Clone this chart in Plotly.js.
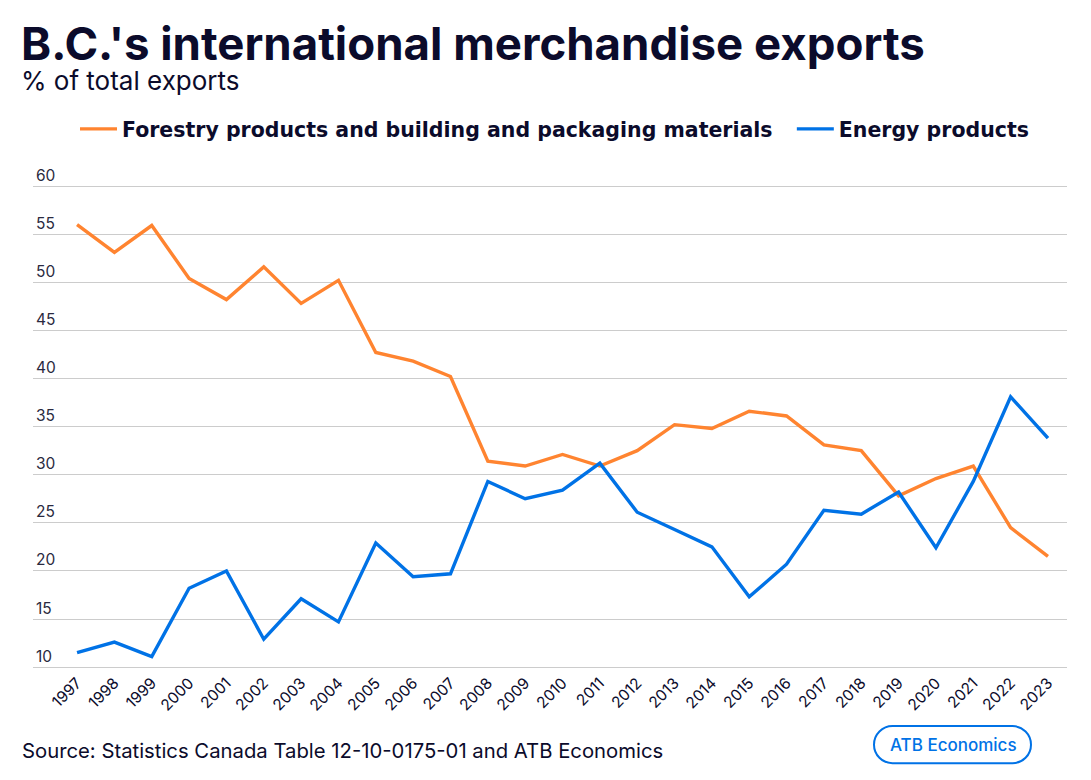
<!DOCTYPE html>
<html>
<head>
<meta charset="utf-8">
<script src="https://cdn.plot.ly/plotly-3.0.1.min.js"></script>
<style>html,body{margin:0;padding:0;background:#fff;}#chart{width:1091px;height:780px;}</style>
</head>
<body>
<div id="chart"></div>
<script>
const years = [1997,1998,1999,2000,2001,2002,2003,2004,2005,2006,2007,2008,2009,2010,2011,2012,2013,2014,2015,2016,2017,2018,2019,2020,2021,2022,2023];
const forestry = [56.0,53.1,55.9,50.4,48.2,51.6,47.8,50.2,42.7,41.8,40.2,31.4,30.9,32.1,30.9,32.5,35.2,34.8,36.6,36.1,33.1,32.5,27.8,29.6,30.9,24.5,21.5];
const energy = [11.5,12.6,11.1,18.2,20.0,12.9,17.1,14.7,22.9,19.4,19.7,29.3,27.5,28.4,31.2,26.1,24.3,22.5,17.3,20.7,26.3,25.9,28.2,22.4,29.3,38.1,33.8];
const seriesNames = ["Forestry products and building and packaging materials","Energy products"];
const yTicks = [10,15,20,25,30,35,40,45,50,55,60];
const titleText = "B.C.'s international merchandise exports";
const subtitleText = "% of total exports";

const W = 1091, H = 780;
// y=60 at 186px, y=10 at 667px
const pxPerUnit = (667 - 186) / 50;
const yMin = 9.7, yMax = 62.5;
const L = 33, R = 1067;
const T = 186 - (yMax - 60) * pxPerUnit, B = 667 + (10 - yMin) * pxPerUnit;
const px = x => (x - L) / (R - L);
const py = y => (B - y) / (B - T);

function pill(x0, y0, x1, y1) {
  const r = (y1 - y0) / 2, k = 0.5523 * r;
  const P = (x, y) => px(x).toFixed(5) + ',' + py(y).toFixed(5);
  return 'M' + P(x0 + r, y0) + ' L' + P(x1 - r, y0) +
    ' C' + P(x1 - r + k, y0) + ' ' + P(x1, y0 + r - k) + ' ' + P(x1, y0 + r) +
    ' C' + P(x1, y0 + r + k) + ' ' + P(x1 - r + k, y1) + ' ' + P(x1 - r, y1) +
    ' L' + P(x0 + r, y1) +
    ' C' + P(x0 + r - k, y1) + ' ' + P(x0, y1 - r + k) + ' ' + P(x0, y0 + r) +
    ' C' + P(x0, y0 + r - k) + ' ' + P(x0 + r - k, y0) + ' ' + P(x0 + r, y0) + ' Z';
}

const dark = '#0b0b2b';
const traces = [
  {x: years, y: forestry, name: seriesNames[0] + '\u00a0\u00a0', type: 'scatter', mode: 'lines',
   line: {color: '#FF8430', width: 3.4}},
  {x: years, y: energy, name: seriesNames[1], type: 'scatter', mode: 'lines',
   line: {color: '#0072E6', width: 3.4}}
];

const layout = {
  width: W, height: H,
  margin: {l: L, r: W - R, t: T, b: H - B, pad: 0},
  paper_bgcolor: '#fff', plot_bgcolor: '#fff',
  font: {family: 'Inter, sans-serif', color: dark},
  showlegend: true,
  legend: {orientation: 'h', x: px(75), y: py(129), xanchor: 'left', yanchor: 'middle',
    font: {family: 'DejaVu Sans, sans-serif', size: 20.5, color: dark, weight: 700},
    itemwidth: 37, tracegroupgap: 0},
  xaxis: {range: [1995.82, 2023.51], tickmode: 'array', tickvals: years, ticktext: years.map(String),
    tickangle: -45, showgrid: false, zeroline: false, showline: false, ticks: '',
    tickfont: {family: 'Inter, sans-serif', size: 15.5, color: dark}},
  yaxis: {range: [yMin, yMax], tickmode: 'array', tickvals: yTicks, ticktext: yTicks.map(String),
    showgrid: true, gridcolor: '#cccccc', gridwidth: 1, zeroline: false, showline: false, ticks: '',
    ticklabelposition: 'inside top',
    tickfont: {family: 'Inter, sans-serif', size: 15.5, color: '#2a2a40'}},
  annotations: [
    {text: '<span style="font-size:45.6px"><b>' + titleText + '</b></span><br>' +
           '<span style="font-size:26px">' + subtitleText + '</span>',
     xref: 'paper', yref: 'paper', align: 'left',
     x: px(19), y: py(14), xanchor: 'left', yanchor: 'top', showarrow: false,
     font: {family: 'Inter, sans-serif', size: 23, color: dark}},
    {text: 'Source: Statistics Canada Table 12-10-0175-01 and ATB Economics', xref: 'paper', yref: 'paper',
     x: px(20), y: py(750), xanchor: 'left', yanchor: 'middle', showarrow: false,
     font: {family: 'Inter, sans-serif', size: 20.3, color: dark}},
    {text: 'ATB Economics', xref: 'paper', yref: 'paper',
     x: px(953), y: py(745), xanchor: 'center', yanchor: 'middle', showarrow: false,
     font: {family: 'Inter, sans-serif', size: 17, color: '#0072E6', weight: 500}}
  ],
  shapes: [
    {type: 'path', xref: 'paper', yref: 'paper', path: pill(874, 726, 1031, 763),
     line: {color: '#0072E6', width: 2}, fillcolor: 'rgba(0,0,0,0)'}
  ]
};

Plotly.newPlot('chart', traces, layout, {displayModeBar: false, staticPlot: true});
</script>
</body>
</html>
